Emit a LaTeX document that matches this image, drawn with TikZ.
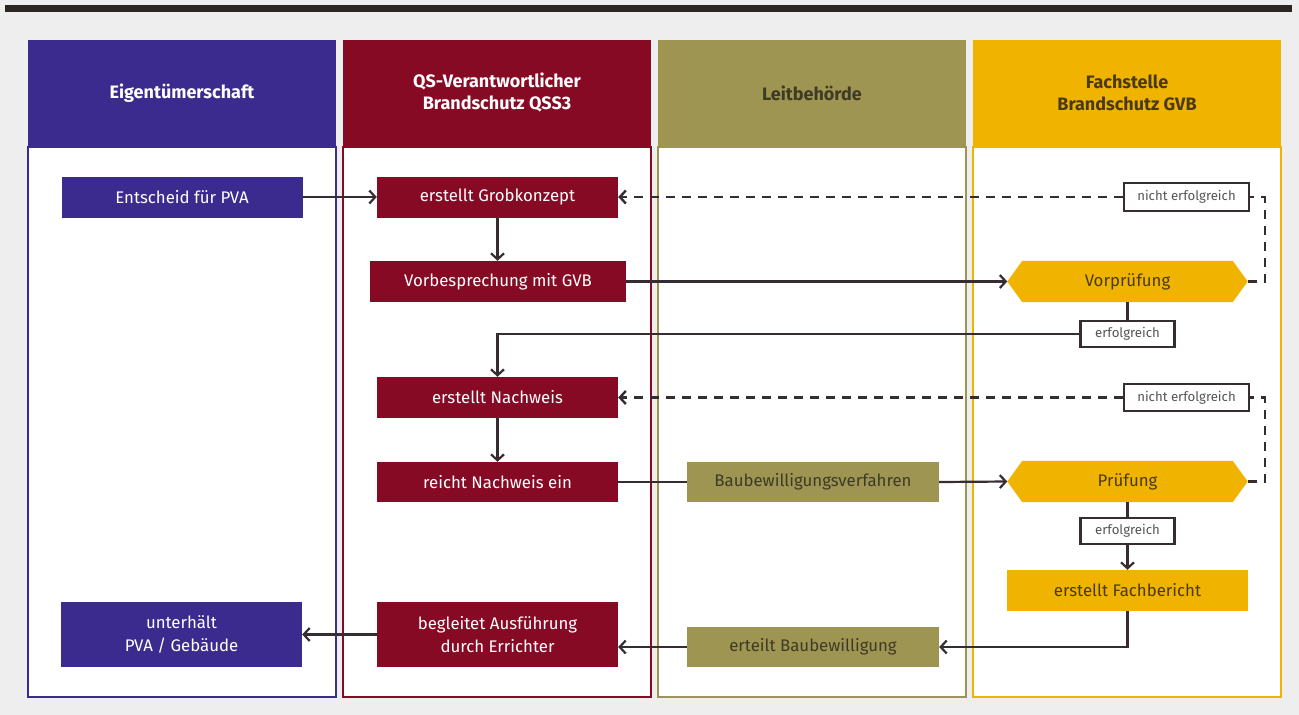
\documentclass[tikz,border=0pt]{standalone}
\usepackage{fontspec}
\setmainfont{Fira Sans}
\usetikzlibrary{arrows.meta}
\definecolor{bgc}{HTML}{EEEEEE}
\definecolor{barc}{HTML}{2B2523}
\definecolor{cblue}{HTML}{3C2B8E}
\definecolor{cred}{HTML}{870A24}
\definecolor{colive}{HTML}{9E9553}
\definecolor{cyel}{HTML}{F0B400}
\definecolor{linec}{HTML}{352D32}
\definecolor{darktxt}{HTML}{3F3A25}
\definecolor{yeltxt}{HTML}{4A3A10}
\definecolor{lbltxt}{HTML}{555555}
\pgfdeclarelayer{bg}
\pgfdeclarelayer{hexl}
\pgfsetlayers{bg,hexl,main}
\tikzset{
  colhead/.style={font=\bfseries\fontsize{18}{22}\selectfont, align=center},
  box/.style={minimum width=241pt, minimum height=41pt, inner sep=0pt, align=center,
    font=\fontsize{16.8}{23}\selectfont},
  bluebox/.style={box, fill=cblue, text=white},
  redbox/.style={box, fill=cred, text=white},
  olivebox/.style={box, fill=colive, text=darktxt},
  yelbox/.style={box, fill=cyel, text=yeltxt},
  hexbox/.style={box, minimum width=240pt, text=yeltxt},
  lbl/.style={draw=linec, line width=2.2pt, fill=white, inner sep=0pt, text=lbltxt,
    font=\fontsize{13.2}{15}\selectfont},
  conn/.style={draw=linec, line width=2.2pt},
  arr/.style={conn, -{Straight Barb[length=6pt,width=13pt]}},
  dsh/.style={conn, line width=2.4pt, dash pattern=on 9pt off 7pt},
}
\begin{document}
\begin{tikzpicture}[x=1pt,y=-1pt]
\useasboundingbox (0,0) rectangle (1299,715);
\begin{pgfonlayer}{bg}
\fill[bgc] (0,0) rectangle (1299,715);
\fill[barc] (5,5) rectangle (1292,12);
% columns
\foreach \xa/\c in {28/cblue,343/cred,658/colive,973/cyel}{
  \fill[\c] (\xa,40) rectangle ++(308,107);
  \filldraw[fill=white, draw=\c, line width=1.4pt] (\xa,147) rectangle ++(308,550);
}
\end{pgfonlayer}
% headers
\node[colhead, text=white] (h1) at (182,93) {Eigentümerschaft};
\node[colhead, text=white] (h2) at (497,93) {QS-Verantwortlicher\\Brandschutz QSS3};
\node[colhead, text=darktxt] (h3) at (812,93) {Leitbehörde};
\node[colhead, text=yeltxt] (h4) at (1127,93) {Fachstelle\\Brandschutz GVB};
% nodes
\node[bluebox] (ent) at (182,197) {Entscheid für PVA};
\node[redbox] (gk) at (497.5,197) {erstellt Grobkonzept};
\node[redbox, minimum width=256pt] (vb) at (498,281.5) {Vorbesprechung mit GVB};
\node[hexbox] (vp) at (1127.5,281.5) {Vorprüfung};
\node[lbl, minimum width=125pt, minimum height=28pt] (ne1) at (1186.5,197) {nicht erfolgreich};
\node[lbl, minimum width=94pt, minimum height=26pt] (erf1) at (1127.5,334) {erfolgreich};
\node[redbox] (en) at (497.5,397.5) {erstellt Nachweis};
\node[redbox, minimum height=40pt] (rn) at (497.5,482) {reicht Nachweis ein};
\node[olivebox, minimum width=252pt, minimum height=40pt] (bv) at (813,482) {Baubewilligungsverfahren};
\node[hexbox] (pr) at (1127.5,481.5) {Prüfung};
\node[lbl, minimum width=125pt, minimum height=27pt] (ne2) at (1186.5,397.5) {nicht erfolgreich};
\node[lbl, minimum width=94pt, minimum height=26pt] (erf2) at (1127.5,531) {erfolgreich};
\node[yelbox] (fb) at (1127.5,590.5) {erstellt Fachbericht};
\node[olivebox, minimum width=252pt, minimum height=40pt] (eb) at (813,647) {erteilt Baubewilligung};
\node[redbox, minimum height=65pt] (ba) at (497.5,634.5) {begleitet Ausführung\\durch Errichter};
\node[bluebox, minimum height=65pt] (up) at (181.5,634.5) {unterhält\\PVA / Gebäude};
% hexagons
\begin{pgfonlayer}{hexl}
\foreach \n in {vp,pr}{
  \fill[cyel] (\n.west) -- ([xshift=15pt]\n.north west) -- ([xshift=-15pt]\n.north east)
    -- (\n.east) -- ([xshift=-15pt]\n.south east) -- ([xshift=15pt]\n.south west) -- cycle;
}
\end{pgfonlayer}
% connectors
\draw[arr] (ent.east) -- (gk.west);
\draw[arr] (gk.south) -- (vb.north -| gk.south);
\draw[arr] (vb.east) -- (vp.west);
\draw[dsh] (vp.east) -- ++(17,0) |- (ne1.east);
\draw[dsh, -{Straight Barb[length=6pt,width=13pt]}] (ne1.west) -- (gk.east);
\draw[conn] (vp.south) -- (erf1.north);
\draw[arr] (erf1.west) -| (en.north);
\draw[arr] (en.south) -- (rn.north);
\draw[conn] (rn.east) -- (bv.west);
\draw[arr] (bv.east) -- (pr.west);
\draw[dsh] (pr.east) -- ++(17,0) |- (ne2.east);
\draw[dsh, -{Straight Barb[length=6pt,width=13pt]}] (ne2.west) -- (en.east);
\draw[conn] (pr.south) -- (erf2.north);
\draw[arr] (erf2.south) -- (fb.north);
\draw[arr] (fb.south) |- (eb.east);
\draw[arr] (eb.west) -- (ba.east |- eb.west);
\draw[arr] (ba.west) -- (up.east);
\end{tikzpicture}
\end{document}
